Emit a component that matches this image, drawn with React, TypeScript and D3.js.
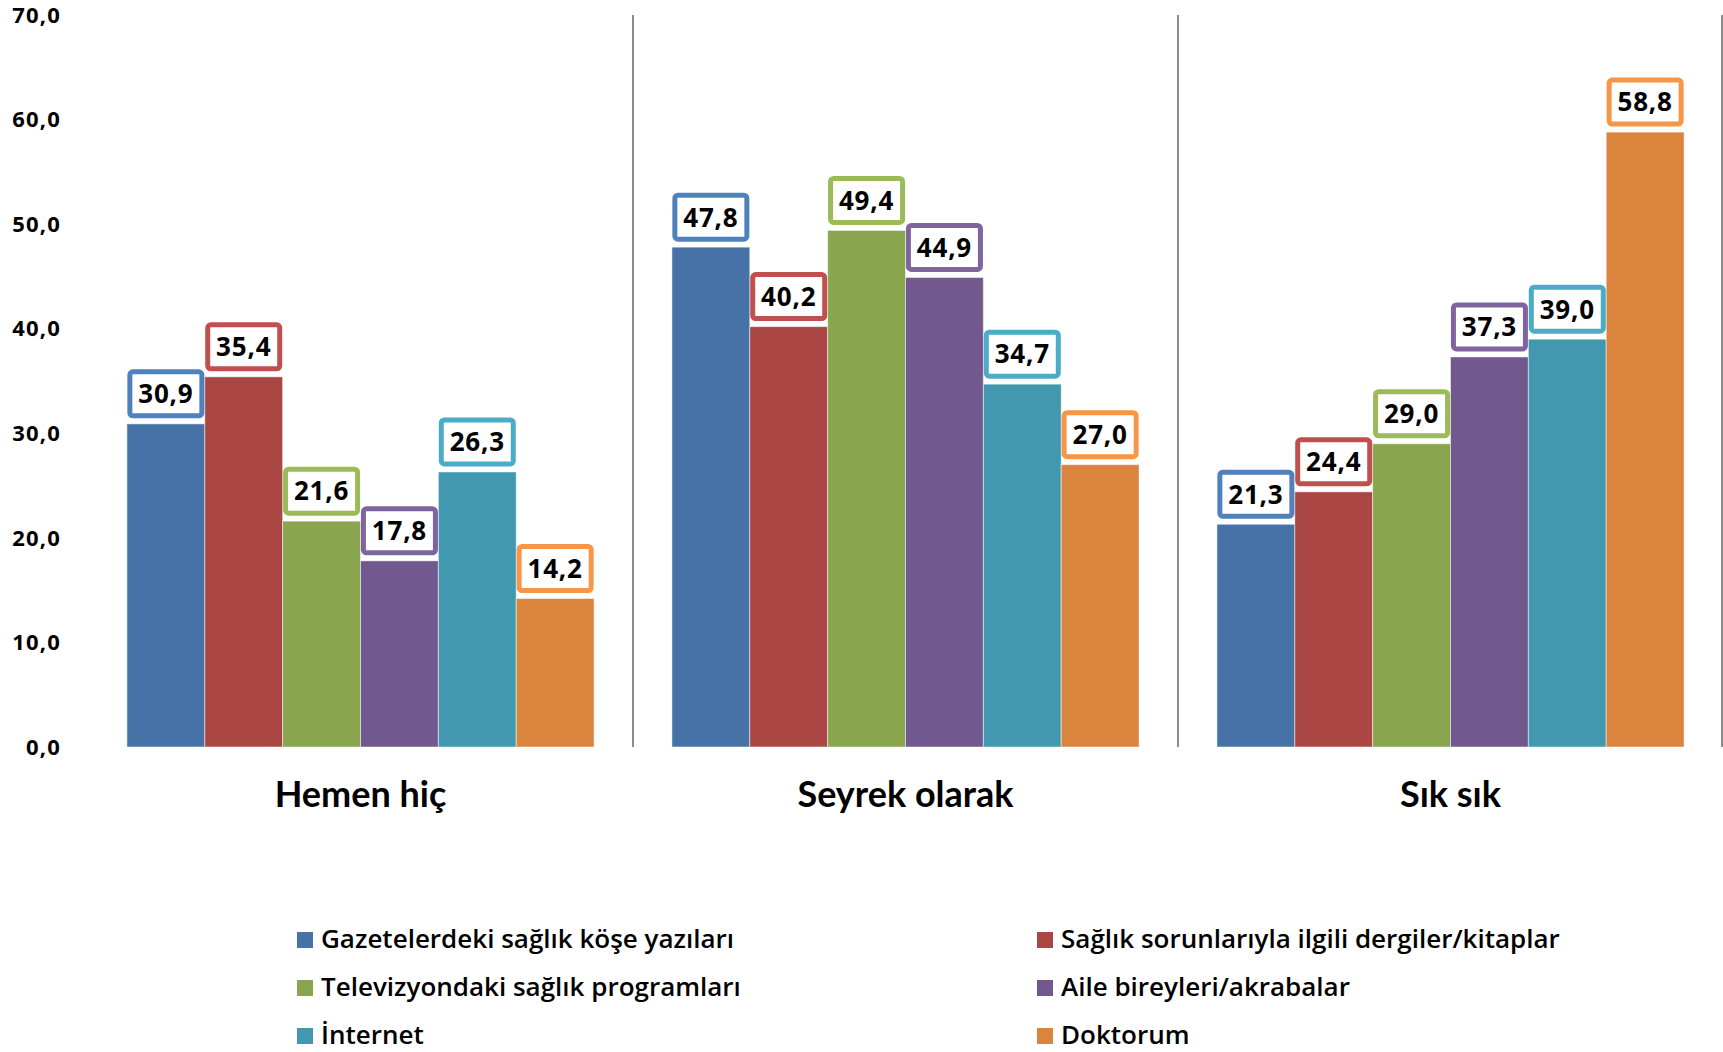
import React from "react";
import * as d3 from "d3";

const categories = ["Hemen hiç", "Seyrek olarak", "Sık sık"];
const seriesNames = [
  "Gazetelerdeki sağlık köşe yazıları",
  "Sağlık sorunlarıyla ilgili dergiler/kitaplar",
  "Televizyondaki sağlık programları",
  "Aile bireyleri/akrabalar",
  "İnternet",
  "Doktorum",
];
const gazete = [30.9, 47.8, 21.3];
const dergi = [35.4, 40.2, 24.4];
const televizyon = [21.6, 49.4, 29.0];
const aile = [17.8, 44.9, 37.3];
const internet = [26.3, 34.7, 39.0];
const doktor = [14.2, 27.0, 58.8];
const seriesValues = [gazete, dergi, televizyon, aile, internet, doktor];
const yTicks = [0, 10, 20, 30, 40, 50, 60, 70];

const fillColors = ["#4672A8", "#AA4744", "#89A54E", "#71588F", "#4198AF", "#DB843D"];
const borderColors = ["#4F81BD", "#C0504D", "#9BBB59", "#8064A2", "#4BACC6", "#F79646"];

const W = 1723;
const H = 1052;
const FONT = "Lato, 'Open Sans', sans-serif";
const FONT2 = "'Open Sans', Lato, sans-serif";

const fmt = (v: number) => v.toFixed(1).replace(".", ",");

export default function App() {
  const x0 = d3.scaleBand<string>().domain(categories).range([88, 1723]).paddingInner(0).paddingOuter(0);
  const x1 = d3
    .scaleBand<number>()
    .domain(d3.range(seriesNames.length))
    .range([0, x0.bandwidth()])
    .paddingInner(0)
    .paddingOuter(0.5);
  const y = d3.scaleLinear().domain([0, 70]).range([747, 15]);

  const separators = categories.slice(1).map((c) => x0(c) as number).concat([1722]);

  const legendCols = [297, 1037];
  const legendRows = [948, 996, 1044];

  return (
    <svg
      width={W}
      height={H}
      style={{ position: "absolute", left: 0, top: 0, background: "#fff" }}
      fontFamily={FONT}
    >
      <rect x={0} y={0} width={W} height={H} fill="#fff" />
      {separators.map((sx, i) => (
        <line key={"sep" + i} x1={sx} x2={sx} y1={y(70)} y2={y(0)} stroke="#8c8c8c" strokeWidth={2} />
      ))}
      {yTicks.map((t) => (
        <text
          key={"t" + t}
          x={61}
          y={y(t)}
          dy="0.35em"
          textAnchor="end"
          fontSize={22}
          letterSpacing={1.2}
          fontFamily={FONT2}
          fontWeight={700}
          fill="#000"
        >
          {fmt(t)}
        </text>
      ))}
      {categories.map((c, ci) => (
        <g key={c} transform={`translate(${x0(c)},0)`}>
          {seriesValues.map((vals, si) => {
            const v = vals[ci];
            const bx = x1(si) as number;
            const bw = x1.bandwidth();
            return (
              <rect
                key={"b" + si}
                x={bx}
                y={y(v)}
                width={bw}
                height={y(0) - y(v)}
                fill={fillColors[si]}
                stroke="#ffffff"
                strokeOpacity={0.5}
                strokeWidth={1}
              />
            );
          })}
          {seriesValues.map((vals, si) => {
            const v = vals[ci];
            const cx = (x1(si) as number) + x1.bandwidth() / 2;
            const bh = 44;
            const bwid = 72;
            const top = y(v) - 8 - bh;
            return (
              <g key={"l" + si}>
                <rect
                  x={cx - bwid / 2}
                  y={top}
                  width={bwid}
                  height={bh}
                  rx={3}
                  fill="#fff"
                  stroke={borderColors[si]}
                  strokeWidth={5}
                />
                <text
                  x={cx}
                  y={top + bh / 2}
                  dy="0.36em"
                  textAnchor="middle"
                  fontSize={26}
                  letterSpacing={0.8}
                  fontFamily={FONT2}
                  fontWeight={700}
                  fill="#000"
                >
                  {fmt(v)}
                </text>
              </g>
            );
          })}
          <text
            x={x0.bandwidth() / 2}
            y={807}
            textAnchor="middle"
            fontSize={36}
            fontWeight={700}
            fill="#000"
          >
            {c}
          </text>
        </g>
      ))}
      {seriesNames.map((name, i) => {
        const col = i % 2;
        const row = Math.floor(i / 2);
        const lx = legendCols[col];
        const ly = legendRows[row];
        return (
          <g key={"lg" + i}>
            <rect x={lx} y={ly - 16} width={16} height={16} fill={fillColors[i]} />
            <text x={lx + 24} y={ly} fontSize={26} fontFamily={FONT2} fontWeight={600} fill="#000">
              {name}
            </text>
          </g>
        );
      })}
    </svg>
  );
}
